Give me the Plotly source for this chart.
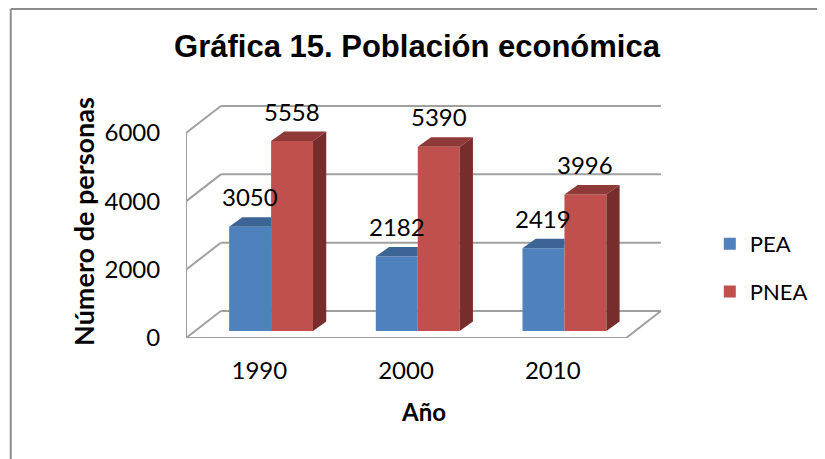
import plotly.graph_objects as go

# ---- data ----
YEARS = ["1990", "2000", "2010"]
PEA = [3050, 2182, 2419]
PNEA = [5558, 5390, 3996]
SERIES_NAMES = ["PEA", "PNEA"]
Y_TICKS = [0, 2000, 4000, 6000]

# ---- 3-D look parameters (style) ----
X0, X1 = -0.5, 2.5          # front floor extent (category units)
DX, DY = 0.2376, 790        # wall depth offset (x units, y units)
BAR_BASE = 205              # bars sit at mid depth
BDX, BDY = 0.09, 280        # bar depth
BW = 0.286
OFFS = [-0.206, 0.080]
FRONT = ["#4F81BD", "#C0504D"]
TOP = ["#3C6494", "#8F3A38"]
SIDE = ["#2F4F78", "#772D2B"]
GRID = "#A0A0A0"
FONT = "Lato"

W, H = 817, 451
L, R, T, B = 178, 161, 97, 121
PW, PH = W - L - R, H - T - B

xs = list(range(len(YEARS)))
fig = go.Figure()

series = [PEA, PNEA]
for s, (name, vals) in enumerate(zip(SERIES_NAMES, series)):
    fig.add_trace(go.Bar(
        x=xs, y=vals, base=[BAR_BASE] * len(vals), name=name,
        offset=OFFS[s], width=BW, marker=dict(color=FRONT[s], line=dict(width=0)),
        legendgroup=name, hoverinfo="skip"))

# top and side faces computed from data
for s, vals in enumerate(series):
    for i, v in zip(xs, vals):
        x0 = i + OFFS[s]
        x1 = x0 + BW
        t = BAR_BASE + v
        if s == 0:
            tx = [x0, x1, x1, x0 + BDX, x0]
            ty = [t, t, t + BDY, t + BDY, t]
        else:
            tx = [x0, x1, x1 + BDX, x0 + BDX, x0]
            ty = [t, t, t + BDY, t + BDY, t]
        fig.add_trace(go.Scatter(x=tx, y=ty, mode="lines", fill="toself",
                                 fillcolor=TOP[s], line=dict(width=0),
                                 showlegend=False, hoverinfo="skip"))
        if s == 1:
            sx = [x1, x1 + BDX, x1 + BDX, x1, x1]
            sy = [BAR_BASE, BAR_BASE + BDY, t + BDY, t, BAR_BASE]
            fig.add_trace(go.Scatter(x=sx, y=sy, mode="lines", fill="toself",
                                     fillcolor=SIDE[s], line=dict(width=0),
                                     showlegend=False, hoverinfo="skip"))

# walls / grid
shapes = []
ln = dict(color=GRID, width=2)
for v in Y_TICKS:
    shapes.append(dict(type="line", xref="x", yref="y", x0=X0 + DX, y0=v + DY,
                       x1=X1 + DX, y1=v + DY, line=ln, layer="below"))
    shapes.append(dict(type="line", xref="x", yref="y", x0=X0, y0=v,
                       x1=X0 + DX, y1=v + DY, line=ln, layer="below"))
shapes.append(dict(type="line", xref="x", yref="y", x0=X0 - 0.061, y0=0, x1=X1, y1=0,
                   line=ln, layer="below"))
shapes.append(dict(type="line", xref="x", yref="y", x0=X1, y0=0, x1=X1 + DX, y1=DY,
                   line=ln, layer="below"))
shapes.append(dict(type="line", xref="x", yref="y", x0=X0, y0=0, x1=X0, y1=max(Y_TICKS),
                   line=ln, layer="below"))
# chart border (left and top edges visible)
bx = (2 - L) / PW
by = (H - B - 1) / PH
shapes.append(dict(type="line", xref="paper", yref="paper", x0=bx, y0=by,
                   x1=bx, y1=-B / PH, line=dict(color="#8C8C8C", width=2)))
shapes.append(dict(type="line", xref="paper", yref="paper", x0=bx, y0=by,
                   x1=(W - L) / PW, y1=by, line=dict(color="#8C8C8C", width=2)))

# value labels
annotations = []
for s, vals in enumerate(series):
    for i, v in zip(xs, vals):
        annotations.append(dict(x=i + OFFS[s] + BW / 2, y=BAR_BASE + v, text=str(v),
                                showarrow=False, yshift=30, yanchor="middle",
                                font=dict(family=FONT, size=24, color="black")))

fig.update_layout(
    width=W, height=H,
    margin=dict(l=L, r=R, t=T, b=B),
    paper_bgcolor="white", plot_bgcolor="rgba(0,0,0,0)",
    barmode="group",
    title=dict(text="<b>Gráfica 15. Población económica</b>", xref="container", yref="container",
               x=409 / W, xanchor="center", y=(H - 38) / H, yanchor="middle",
               font=dict(family="Liberation Sans", size=31, color="black")),
    xaxis=dict(range=[-0.5, 2.745], tickvals=xs, ticktext=YEARS, showgrid=False,
               zeroline=False, showline=False, ticks="", ticklabelstandoff=16,
               tickfont=dict(family=FONT, size=24, color="black"),
               title=dict(text="<b>Año</b>", standoff=21,
                          font=dict(family=FONT, size=24, color="black"))),
    yaxis=dict(range=[0, 6820], tickvals=Y_TICKS, showgrid=False, zeroline=False,
               showline=False, ticks="outside", ticklen=20, tickcolor="rgba(0,0,0,0)",
               tickfont=dict(family=FONT, size=24, color="black"),
               title=dict(text="<b>Número de personas</b>", standoff=2,
                          font=dict(family=FONT, size=27, color="black"))),
    legend=dict(x=(704 - L) / PW, xanchor="left", y=(H - B - 215) / PH, yanchor="top",
                font=dict(family=FONT, size=22, color="black"), tracegroupgap=16,
                bgcolor="rgba(0,0,0,0)"),
    shapes=shapes, annotations=annotations,
)

fig.write_html("out.html")
